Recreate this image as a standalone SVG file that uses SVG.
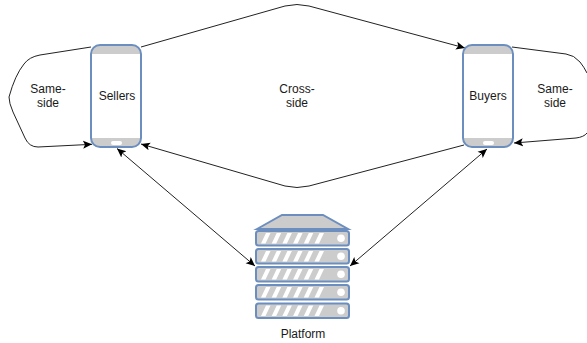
<svg xmlns="http://www.w3.org/2000/svg" width="587" height="343" viewBox="0 0 587 343">
<style>
text{font-family:"Liberation Sans",Arial,sans-serif;font-size:12px;fill:#1a1a1a;text-anchor:middle}
.c{fill:none;stroke:#222;stroke-width:1}
.o{fill:#ccc;stroke:#6c8ebf;stroke-width:2}
.s{fill:#fff;stroke:none}
</style>
<defs>
<marker id="a" markerUnits="userSpaceOnUse" markerWidth="10" markerHeight="10" refX="9" refY="4" orient="auto-start-reverse" viewBox="0 0 10 8"><path d="M0 0L9 4L0 8L2 4Z" fill="#000"/></marker>
<g id="srv"><rect x="0" y="0" width="93" height="14.500" rx="2.500" class="o"/><path class="s" d="M5 12.500L10 2H14.500L9.500 12.500ZM15.700 12.500L20.700 2H25.200L20.200 12.500ZM26.400 12.500L31.400 2H35.900L30.900 12.500ZM37.100 12.500L42.100 2H46.600L41.600 12.500ZM47.800 12.500L52.800 2H57.300L52.300 12.500ZM58.500 12.500L63.500 2H68L63 12.500Z"/><circle cx="85" cy="7.200" r="3.800" class="s"/></g>
<g id="ph"><rect x="0" y="0" width="50" height="102" rx="9" fill="#ccc" stroke="none"/><rect x="0" y="9" width="50" height="84" class="s"/><rect x="0" y="0" width="50" height="102" rx="9" fill="none" stroke="#6c8ebf" stroke-width="2"/><rect x="20" y="96" width="11" height="4" rx="2" class="s"/></g>
</defs>
<g id="connectors">
<path class="c" marker-end="url(#a)" d="M91 47L40 55Q29 57 24 64Q15 75 9 97Q9 103 13 112L25 138Q29 147 38 147L92 144.300"/>
<path class="c" marker-end="url(#a)" d="M512 47L566 54Q574 55 580 62Q584 67 587 73M587 133Q584 137 576 138L514 143"/>
<path class="c" marker-end="url(#a)" d="M141 47L285 6Q297 3 309 6L465 48"/>
<path class="c" marker-end="url(#a)" d="M464 145L309 186Q297 189 285 186L141 144"/>
<path class="c" marker-start="url(#a)" marker-end="url(#a)" d="M117 148.500L255 266"/>
<path class="c" marker-start="url(#a)" marker-end="url(#a)" d="M487 149L350 266"/>
</g>
<g id="sellers"><use href="#ph" x="91" y="45"/><text x="117" y="100">Sellers</text></g>
<g id="buyers"><use href="#ph" x="463" y="45"/><text x="488" y="100">Buyers</text></g>
<g id="platform">
<path class="o" d="M257 229L282 215H323L348 229Z"/>
<use href="#srv" x="256" y="231"/><use href="#srv" x="256" y="249"/><use href="#srv" x="256" y="267"/><use href="#srv" x="256" y="285"/><use href="#srv" x="256" y="303.500"/>
<text x="303" y="338">Platform</text>
</g>
<g id="same-left"><text x="48" y="93">Same-</text><text x="48" y="107">side</text></g>
<g id="cross"><text x="297" y="93">Cross-</text><text x="297" y="107">side</text></g>
<g id="same-right"><text x="555" y="93">Same-</text><text x="555" y="107">side</text></g>
</svg>
